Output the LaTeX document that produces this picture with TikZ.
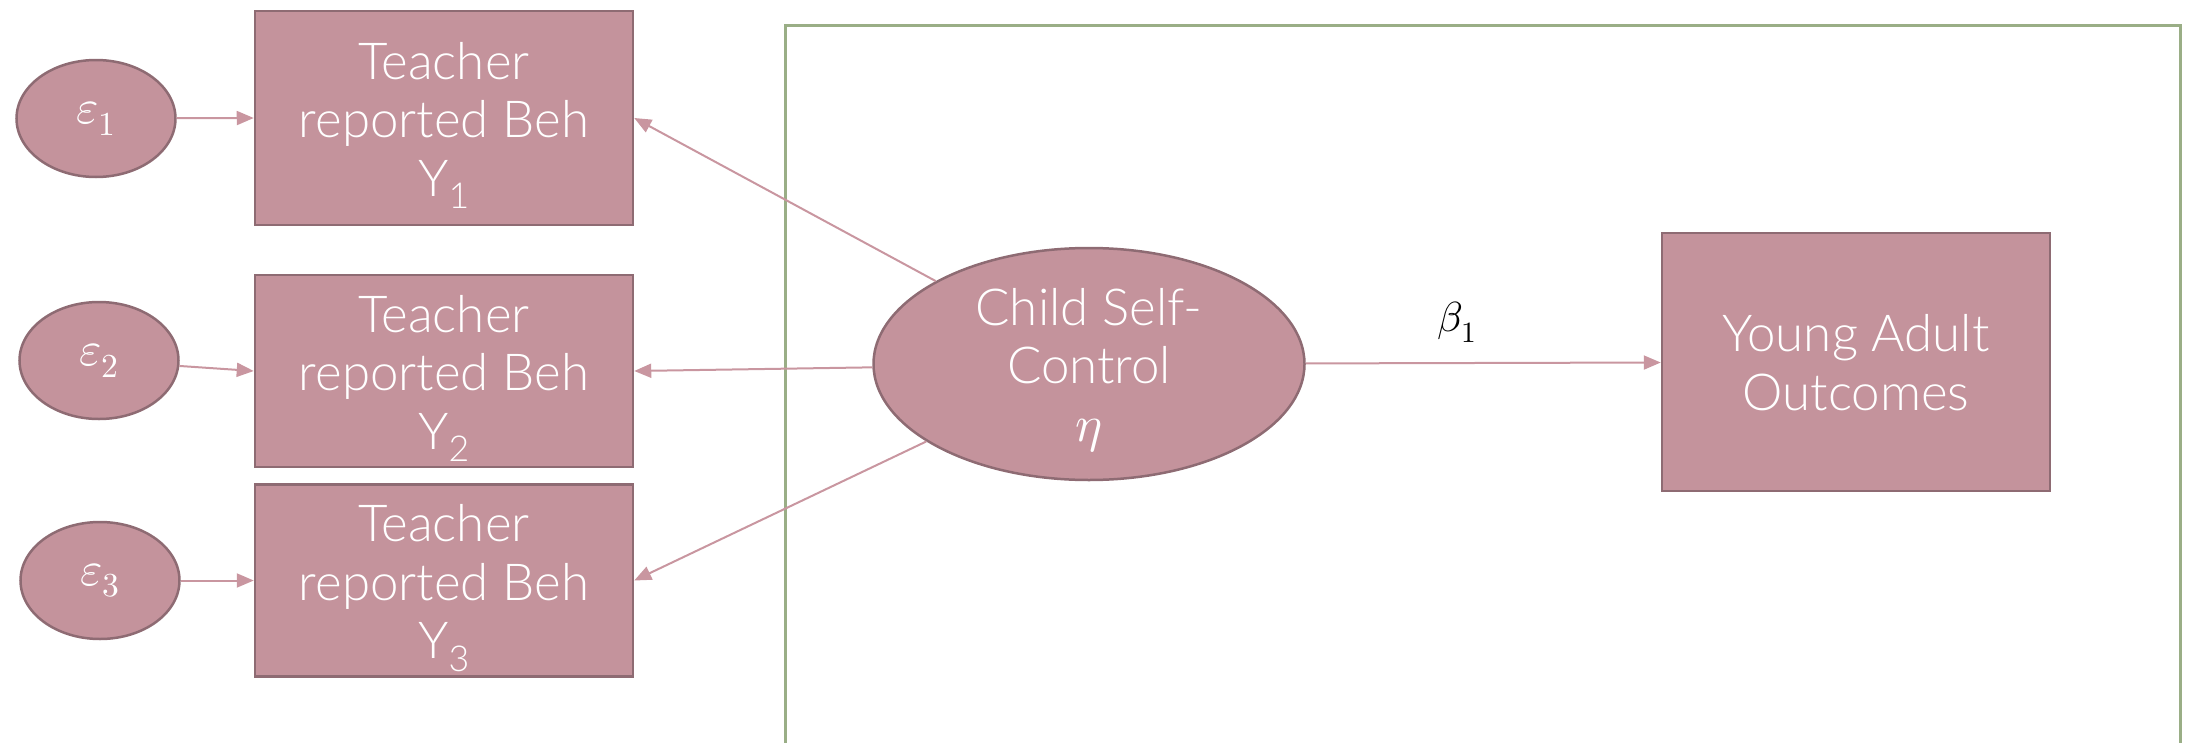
\documentclass[tikz,border=0pt]{standalone}
\usepackage{fontspec}
\usepackage{unicode-math}
\setmainfont{Lato Light}
\usetikzlibrary{arrows.meta,shapes.geometric}
\definecolor{nodefill}{HTML}{C4939C}
\definecolor{nodeline}{HTML}{8E6B73}
\definecolor{linkline}{HTML}{C996A0}
\definecolor{frameline}{HTML}{9AAE86}

\begin{document}
\begin{tikzpicture}[x=1pt,y=-1pt,
  box/.style={rectangle, draw=nodeline, line width=2.5pt, fill=nodefill, text=white,
    align=center, inner sep=0pt, font=\fontsize{51}{58.5}\selectfont},
  indicator/.style={box, minimum width=378pt, text height=156pt, text depth=0pt},
  errnode/.style={ellipse, draw=nodeline, line width=2.5pt, fill=nodefill, text=white,
    inner sep=0pt, minimum width=159pt, minimum height=117pt, font=\fontsize{48}{56}\selectfont},
  link/.style={draw=linkline, line width=2pt, -{Triangle[length=17pt,width=14pt]}},
]
\useasboundingbox (0,0) rectangle (2188,742);

% frame around the structural part of the model
\draw[frameline, line width=3pt] (785.5,25) rectangle (2180,800);

% indicators
\node[indicator, minimum height=214pt] (b1) at (444,118) {Teacher\\reported Beh\\Y\textsubscript{1}};
\node[indicator, minimum height=192pt] (b2) at (444,371) {Teacher\\reported Beh\\Y\textsubscript{2}};
\node[indicator, minimum height=192pt] (b3) at (444,580.5) {Teacher\\reported Beh\\Y\textsubscript{3}};

% error terms
\node[errnode] (e1) at (96,118.5) {$\varepsilon_1$};
\node[errnode] (e2) at (99,360.5) {$\varepsilon_2$};
\node[errnode] (e3) at (100,580.5) {$\varepsilon_3$};

% latent factor and outcome
\node[ellipse, draw=nodeline, line width=2.5pt, fill=nodefill, text=white, align=center,
  inner sep=0pt, minimum width=431pt, minimum height=232pt,
  font=\fontsize{51}{58}\selectfont,
  text height=154pt, text depth=0pt] (eta) at (1089,364) {Child Self-\\Control\\$\eta$};
\node[box, minimum width=388pt, minimum height=258pt,
  text height=96pt, text depth=0pt] (out) at (1856,362) {Young Adult\\Outcomes};

% paths
\draw[link] (e1) -- (b1.west);
\draw[link] (e2) -- (b2.west);
\draw[link] (e3) -- (b3.west);
\draw[link] (eta) -- (b1.east);
\draw[link] (eta) -- (b2.east);
\draw[link] (eta) -- (b3.east);
\draw[link] (eta) -- (out);

\node[font=\fontsize{42}{50}\selectfont] (beta) at (1457,322) {$\beta_1$};
\end{tikzpicture}
\end{document}
